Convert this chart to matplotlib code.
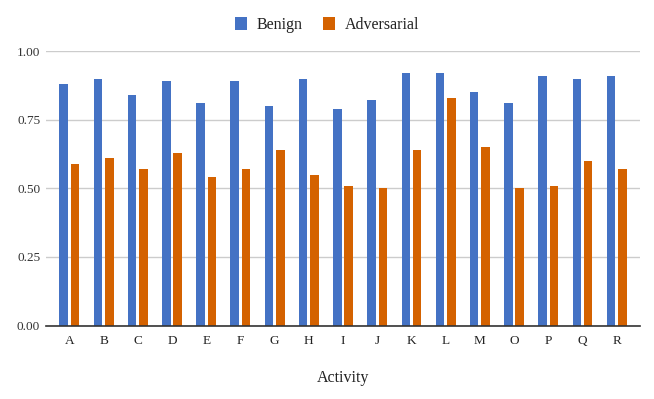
import matplotlib
matplotlib.use("Agg")
import matplotlib.pyplot as plt
import numpy as np

activities = ["A", "B", "C", "D", "E", "F", "G", "H", "I", "J", "K", "L", "M", "O", "P", "Q", "R"]
benign = [0.88, 0.90, 0.84, 0.89, 0.81, 0.89, 0.80, 0.90, 0.79, 0.82, 0.92, 0.92, 0.85, 0.81, 0.91, 0.90, 0.91]
adversarial = [0.59, 0.61, 0.57, 0.63, 0.54, 0.57, 0.64, 0.55, 0.51, 0.50, 0.64, 0.83, 0.65, 0.50, 0.51, 0.60, 0.57]
yticks = [0.00, 0.25, 0.50, 0.75, 1.00]

serif = "Liberation Serif"

fig = plt.figure(figsize=(6.54, 3.99), dpi=100)
ax = fig.add_axes([0.070, 0.184, 0.909, 0.688])

x = np.arange(len(activities))
w = 0.25
off = 0.165
b1 = ax.bar(x - off, benign, w, color="#4472C4", label="Benign", zorder=3)
b2 = ax.bar(x + off, adversarial, w, color="#D46200", label="Adversarial", zorder=3)

ax.set_xlim(-0.69, len(activities) - 1 + 0.69)
ax.set_ylim(0, 1.0)
ax.set_yticks(yticks)
ax.set_yticklabels([f"{v:.2f}" for v in yticks], fontfamily=serif, fontsize=9.5, color="#333333")
ax.set_xticks(x)
ax.set_xticklabels(activities, fontfamily=serif, fontsize=9.5, color="#222222")
ax.tick_params(axis="both", length=0)
ax.tick_params(axis="x", pad=7)
ax.tick_params(axis="y", pad=4)
ax.yaxis.grid(True, color="#cccccc", linewidth=1, zorder=0)
for s in ["top", "right", "left"]:
    ax.spines[s].set_visible(False)
ax.spines["bottom"].set_color("#333333")
ax.spines["bottom"].set_linewidth(1.2)
ax.spines["bottom"].set_zorder(4)

ax.set_xlabel("Activity", fontfamily=serif, fontsize=11.5, color="#222222", labelpad=16)

leg = fig.legend(handles=[b1, b2], loc="center", bbox_to_anchor=(0.5, 0.938), ncol=2,
                 frameon=False, prop={"family": serif, "size": 11.5},
                 handlelength=0.75, handleheight=0.85, handletextpad=0.6, columnspacing=1.3)
for t in leg.get_texts():
    t.set_color("#222222")

fig.savefig("out.png", dpi=100)
